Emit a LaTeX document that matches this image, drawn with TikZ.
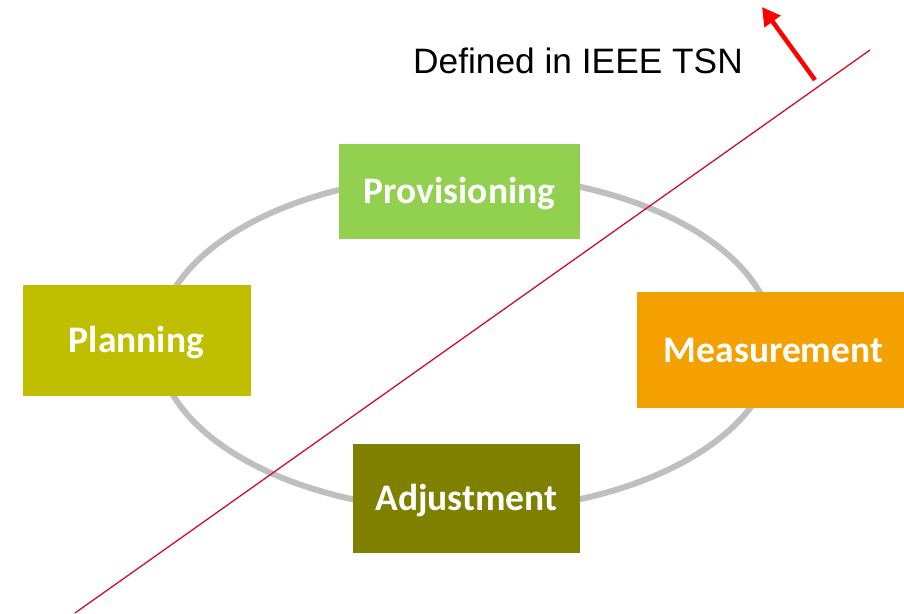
\documentclass[tikz,border=0pt]{standalone}
\usepackage{fontspec}
\setmainfont{Carlito}
\newfontfamily\notefont{Liberation Sans}
\usetikzlibrary{arrows.meta}
\definecolor{provgreen}{HTML}{92D050}
\definecolor{planolive}{HTML}{BFBF00}
\definecolor{measorange}{HTML}{F4A000}
\definecolor{adjolive}{HTML}{808000}
\definecolor{cyclegray}{HTML}{BFBFBF}
\definecolor{splitred}{HTML}{D0102A}
\tikzset{
  phase/.style={rectangle,inner sep=0pt,text=white,
    font=\bfseries\fontsize{37.5}{42}\selectfont,
    text height=24.2pt,text depth=0pt},
  note/.style={inner sep=0pt,font=\notefont\fontsize{35.3}{40}\selectfont}
}
\begin{document}
\begin{tikzpicture}[x=1pt,y=-1pt]
      \clip (0,0) rectangle (904,613);
      \fill[white] (0,0) rectangle (904,613);

      % the cycle
      \coordinate (centre) at (466,343);
      \draw[cyclegray,line width=6pt] (centre) ellipse [x radius=308,y radius=168];

      \node[phase,fill=provgreen,minimum width=241pt,minimum height=95pt]
           (provisioning) at (459.5,191.5) {Provisioning};
      \node[phase,fill=planolive,minimum width=228pt,minimum height=111pt]
           (planning) at (136.5,340.5) {Planning};
      \node[phase,fill=measorange,minimum width=273pt,minimum height=116pt]
           (measurement) at (773.5,350) {Measurement};
      \node[phase,fill=adjolive,minimum width=227pt,minimum height=109pt]
           (adjustment) at (466.5,498.5) {Adjustment};

      % split line and note
      \coordinate (split low) at (75,613);
      \coordinate (split high) at (870,50);
      \draw[splitred,line width=1.3pt] (split low) -- (split high);

      \node[note] (tsn) at (578,60.5) {Defined in IEEE TSN};
      \coordinate (arrow tail) at (815,80);
      \coordinate (arrow tip) at (762,7);
      \draw[red,line width=4.5pt,-{Triangle[length=18pt,width=19pt]}]
           (arrow tail) -- (arrow tip);
\end{tikzpicture}
\end{document}
